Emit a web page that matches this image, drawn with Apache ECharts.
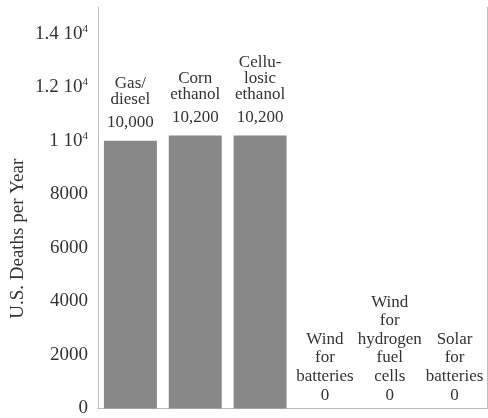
<!DOCTYPE html>
<html>
<head>
<meta charset="utf-8">
<script src="https://cdn.jsdelivr.net/npm/echarts@6/dist/echarts.min.js"></script>
<style>
  html, body { margin: 0; padding: 0; background: #fff; }
  #chart { width: 488px; height: 418px; }
</style>
</head>
<body>
<div id="chart"></div>
<script>
// categories and values
var categories = ['Gas/\ndiesel', 'Corn\nethanol', 'Cellu-\nlosic\nethanol',
    'Wind\nfor\nbatteries', 'Wind\nfor\nhydrogen\nfuel\ncells', 'Solar\nfor\nbatteries'];
var deaths = [10000, 10200, 10200, 0, 0, 0];
var yTicks = [0, 2000, 4000, 6000, 8000, 10000, 12000, 14000];

var serif = 'Liberation Serif';
var textColor = '#333';
var frame = { color: '#b8b8b8', type: 'dotted', width: 1 };

function tickLabel(v) {
    if (yTicks.indexOf(v) < 0) return '';
    if (v >= 10000) return (v / 10000) + ' 10{sup|4}';
    return String(v);
}

// name lines above the value; empty bars get a looser layout, as in the figure
function barLabel(p) {
    var big = p.value > 0;
    var lines = p.name.split('\n').map(function (s) { return '{' + (big ? 'cat' : 'cat0') + '|' + s + '}'; });
    var val = p.value.toLocaleString('en-US');
    return lines.join('\n') + '\n' + '{' + (big ? 'val' : 'zero') + '|' + val + '}';
}

var myChart = echarts.init(document.getElementById('chart'));

var option = {
    animation: false,
    textStyle: { fontFamily: serif },
    grid: { left: 98, right: 1, top: 7, bottom: 4 },
    xAxis: [
        {
            type: 'category',
            data: categories,
            axisLine: { lineStyle: frame },
            axisTick: { show: false },
            axisLabel: { show: false }
        },
        {
            type: 'category',
            position: 'top',
            data: categories,
            axisLine: { lineStyle: frame },
            axisTick: { show: false },
            axisLabel: { show: false }
        }
    ],
    yAxis: [
        {
            type: 'value',
            min: 0,
            max: 15000,
            interval: 2000,
            name: 'U.S. Deaths per Year',
            nameLocation: 'middle',
            nameMoveOverlap: false,
            nameGap: 70,
            nameTextStyle: {
                fontFamily: serif,
                fontSize: 19,
                color: textColor,
                padding: [0, 62, 0, 0]
            },
            axisLine: { show: true, lineStyle: frame },
            axisTick: { show: false },
            splitLine: { show: false },
            axisLabel: {
                margin: 10,
                fontFamily: serif,
                fontSize: 19,
                color: textColor,
                formatter: tickLabel,
                rich: {
                    sup: { fontFamily: serif, fontSize: 11, color: textColor, padding: [0, 0, 10, 0] }
                }
            }
        },
        {
            type: 'value',
            position: 'right',
            min: 0,
            max: 15000,
            axisLine: { show: true, lineStyle: frame },
            axisTick: { show: false },
            axisLabel: { show: false },
            splitLine: { show: false }
        }
    ],
    series: [
        {
            type: 'bar',
            data: deaths,
            barWidth: 53,
            itemStyle: { color: '#888888' },
            label: {
                show: true,
                position: 'top',
                distance: 3,
                fontFamily: serif,
                fontSize: 17,
                color: textColor,
                formatter: barLabel,
                rich: {
                    cat: { fontFamily: serif, fontSize: 17, color: textColor, lineHeight: 16, align: 'center' },
                    cat0: { fontFamily: serif, fontSize: 17, color: textColor, lineHeight: 18.5, align: 'center' },
                    val: { fontFamily: serif, fontSize: 17, color: textColor, lineHeight: 30, align: 'center' },
                    zero: { fontFamily: serif, fontSize: 17, color: textColor, lineHeight: 20, align: 'center' }
                }
            }
        }
    ]
};

myChart.setOption(option);
</script>
</body>
</html>
